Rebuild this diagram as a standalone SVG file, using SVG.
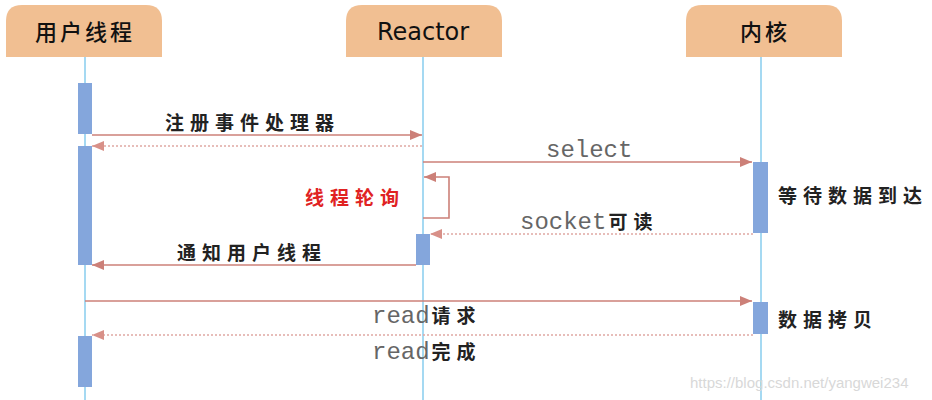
<svg xmlns="http://www.w3.org/2000/svg" width="932" height="400" viewBox="0 0 932 400">
<defs>
<style>
.hdr{fill:#f1bf92}
.life{stroke:#8fd0ef;stroke-width:1.6;fill:none}
.bar{fill:#84a6dc}
.msg{stroke:#cc8078;stroke-width:1.6;fill:none}
.ret{stroke:#e0a8a2;stroke-width:1.6;fill:none;stroke-dasharray:2 2}
.cjk{font-family:"Noto Sans CJK SC","Liberation Sans",sans-serif;font-weight:bold;font-size:19px;fill:#222;letter-spacing:6px}
.mono{font-family:"Liberation Mono","DejaVu Sans Mono",monospace;font-size:24px;fill:#666666}
.h{font-family:"Noto Sans CJK SC","Liberation Sans",sans-serif;font-size:22px;font-weight:500;fill:#111;text-anchor:middle}
</style>
<marker id="ah" viewBox="0 0 12 10" refX="12" refY="5" markerWidth="12" markerHeight="10" markerUnits="userSpaceOnUse" orient="auto">
<path d="M0,0 L12,5 L0,10 Z" fill="#cc8078"/>
</marker>
<marker id="ahr" viewBox="0 0 12 10" refX="12" refY="5" markerWidth="12" markerHeight="10" markerUnits="userSpaceOnUse" orient="auto">
<path d="M0,0 L12,5 L0,10 Z" fill="#d89088"/>
</marker>
</defs>
<rect width="932" height="400" fill="#ffffff"/>

<g id="user">
<path class="hdr" d="M6,57 V21 Q6,5 22,5 H146 Q162,5 162,21 V57 Z"/>
<text class="h" x="85" y="40" letter-spacing="3">用户线程</text>
<line class="life" x1="85" y1="57" x2="85" y2="400"/>
<rect class="bar" x="78" y="83" width="14" height="51"/>
<rect class="bar" x="78" y="146" width="14" height="119"/>
<rect class="bar" x="78" y="336" width="14" height="51"/>
</g>

<g id="reactor">
<path class="hdr" d="M346,57 V21 Q346,5 362,5 H486 Q502,5 502,21 V57 Z"/>
<text x="423" y="40" font-family="'DejaVu Sans','Liberation Sans',sans-serif" font-size="24" fill="#111" text-anchor="middle">Reactor</text>
<line class="life" x1="423" y1="57" x2="423" y2="400"/>
<rect class="bar" x="416" y="234" width="14" height="31"/>
</g>

<g id="kernel">
<path class="hdr" d="M686,57 V21 Q686,5 702,5 H826 Q842,5 842,21 V57 Z"/>
<text class="h" x="765" y="40" letter-spacing="3">内核</text>
<line class="life" x1="761" y1="57" x2="761" y2="400"/>
<rect class="bar" x="753" y="162" width="15" height="71"/>
<rect class="bar" x="753" y="302" width="15" height="32"/>
<text class="cjk" x="778" y="203" letter-spacing="4.5">等待数据到达</text>
<text class="cjk" x="778" y="327" letter-spacing="5">数据拷贝</text>
</g>

<g id="connectors">
<line class="msg" x1="92" y1="135" x2="422" y2="135" marker-end="url(#ah)"/>
<line class="ret" x1="422" y1="146" x2="92" y2="146" marker-end="url(#ahr)"/>
<line class="msg" x1="423" y1="162" x2="752" y2="162" marker-end="url(#ah)"/>
<polyline class="msg" points="423,218 449,218 449,177 424,177" marker-end="url(#ah)"/>
<line class="ret" x1="753" y1="234" x2="430" y2="234" marker-end="url(#ahr)"/>
<line class="msg" x1="416" y1="265" x2="92" y2="265" marker-end="url(#ah)"/>
<line class="msg" x1="85" y1="301" x2="752" y2="301" marker-end="url(#ah)"/>
<line class="ret" x1="753" y1="335" x2="92" y2="335" marker-end="url(#ahr)"/>
</g>

<g id="labels">
<text class="cjk" x="165" y="130">注册事件处理器</text>
<text class="mono" x="546" y="157">select</text>
<text class="cjk" x="305" y="205" style="fill:#e02222">线程轮询</text>
<text x="520" y="229"><tspan class="mono">socket</tspan><tspan class="cjk" dx="2">可读</tspan></text>
<text class="cjk" x="177" y="260">通知用户线程</text>
<text x="372" y="323"><tspan class="mono">read</tspan><tspan class="cjk" dx="2">请求</tspan></text>
<text x="372" y="359"><tspan class="mono">read</tspan><tspan class="cjk" dx="2">完成</tspan></text>
</g>
<text x="690" y="388" font-family="'Liberation Sans',sans-serif" font-size="15" fill="#d8d8d8">https://blog.csdn.net/yangwei234</text>
</svg>
